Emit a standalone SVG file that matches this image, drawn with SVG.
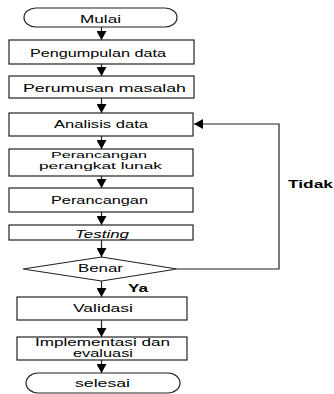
<svg xmlns="http://www.w3.org/2000/svg" width="334" height="394" viewBox="0 0 334 394">
<style>
.s{fill:#fff;stroke:#222;stroke-width:1.2}
.t{font-family:"Liberation Sans",Arial,sans-serif;font-size:10.5px;fill:#000;text-anchor:start}
.sm{font-size:9.5px}
.b{font-weight:bold}
.c{fill:none;stroke:#222;stroke-width:1.2}
</style>
<defs>
<marker id="ah" markerWidth="11" markerHeight="10" refX="9" refY="5" orient="auto" markerUnits="userSpaceOnUse">
<path d="M0,0 L9,5 L0,10 Z" fill="#000"/>
</marker>
</defs>
<rect width="334" height="394" fill="#fff"/>
<g id="connectors">
<line class="c" x1="101.5" y1="27" x2="101.5" y2="40" marker-end="url(#ah)"/>
<line class="c" x1="101.5" y1="64" x2="101.5" y2="76" marker-end="url(#ah)"/>
<line class="c" x1="101.5" y1="98" x2="101.5" y2="113" marker-end="url(#ah)"/>
<line class="c" x1="101.5" y1="136" x2="101.5" y2="149" marker-end="url(#ah)"/>
<line class="c" x1="101.5" y1="176" x2="101.5" y2="188" marker-end="url(#ah)"/>
<line class="c" x1="101.5" y1="212" x2="101.5" y2="225" marker-end="url(#ah)"/>
<line class="c" x1="101.5" y1="240" x2="101.5" y2="257" marker-end="url(#ah)"/>
<line class="c" x1="101.5" y1="281" x2="101.5" y2="297" marker-end="url(#ah)"/>
<line class="c" x1="101.5" y1="320" x2="101.5" y2="337" marker-end="url(#ah)"/>
<line class="c" x1="101.5" y1="360" x2="101.5" y2="373" marker-end="url(#ah)"/>
<polyline class="c" points="177,269 279,269 279,124 194,124" marker-end="url(#ah)"/>
<text class="t b" x="128" y="292" textLength="20" lengthAdjust="spacingAndGlyphs">Ya</text>
<text class="t b" x="288" y="188" textLength="45" lengthAdjust="spacingAndGlyphs">Tidak</text>
</g>
<g id="mulai">
<rect class="s" x="24" y="8" width="153" height="19" rx="12" ry="9.5"/>
<text class="t" x="80" y="22.5" textLength="41" lengthAdjust="spacingAndGlyphs">Mulai</text>
</g>
<g id="pengumpulan">
<rect class="s" x="9" y="40" width="185" height="24"/>
<text class="t" x="30" y="56.5" textLength="136" lengthAdjust="spacingAndGlyphs">Pengumpulan data</text>
</g>
<g id="perumusan">
<rect class="s" x="9" y="76" width="185" height="22"/>
<text class="t" x="23" y="91.5" textLength="163" lengthAdjust="spacingAndGlyphs">Perumusan masalah</text>
</g>
<g id="analisis">
<rect class="s" x="9" y="113" width="184" height="23"/>
<text class="t" x="54" y="128" textLength="94" lengthAdjust="spacingAndGlyphs">Analisis data</text>
</g>
<g id="perancangan-pl">
<rect class="s" x="9" y="149" width="184" height="27"/>
<text class="t sm" x="51" y="157.5" textLength="96" lengthAdjust="spacingAndGlyphs">Perancangan</text>
<text class="t sm" x="39" y="168.5" textLength="123" lengthAdjust="spacingAndGlyphs">perangkat lunak</text>
</g>
<g id="perancangan">
<rect class="s" x="9" y="188" width="184" height="24"/>
<text class="t" x="51" y="203.5" textLength="97" lengthAdjust="spacingAndGlyphs">Perancangan</text>
</g>
<g id="testing">
<rect class="s" x="9" y="225" width="184" height="15"/>
<text class="t" x="75" y="237.5" font-style="italic" textLength="54" lengthAdjust="spacingAndGlyphs">Testing</text>
</g>
<g id="benar">
<polygon class="s" points="101.5,257 177,269 101.5,281 23,269"/>
<text class="t" x="78" y="272" textLength="45" lengthAdjust="spacingAndGlyphs">Benar</text>
</g>
<g id="validasi">
<rect class="s" x="17" y="297" width="170" height="23"/>
<text class="t" x="73" y="311.5" textLength="60" lengthAdjust="spacingAndGlyphs">Validasi</text>
</g>
<g id="implementasi">
<rect class="s" x="17" y="337" width="170" height="23"/>
<text class="t" x="35" y="346" textLength="135" lengthAdjust="spacingAndGlyphs">Implementasi dan</text>
<text class="t" x="73" y="357" textLength="60" lengthAdjust="spacingAndGlyphs">evaluasi</text>
</g>
<g id="selesai">
<rect class="s" x="26" y="373" width="154" height="20" rx="12" ry="10"/>
<text class="t" x="75" y="387" textLength="55" lengthAdjust="spacingAndGlyphs">selesai</text>
</g>
</svg>
